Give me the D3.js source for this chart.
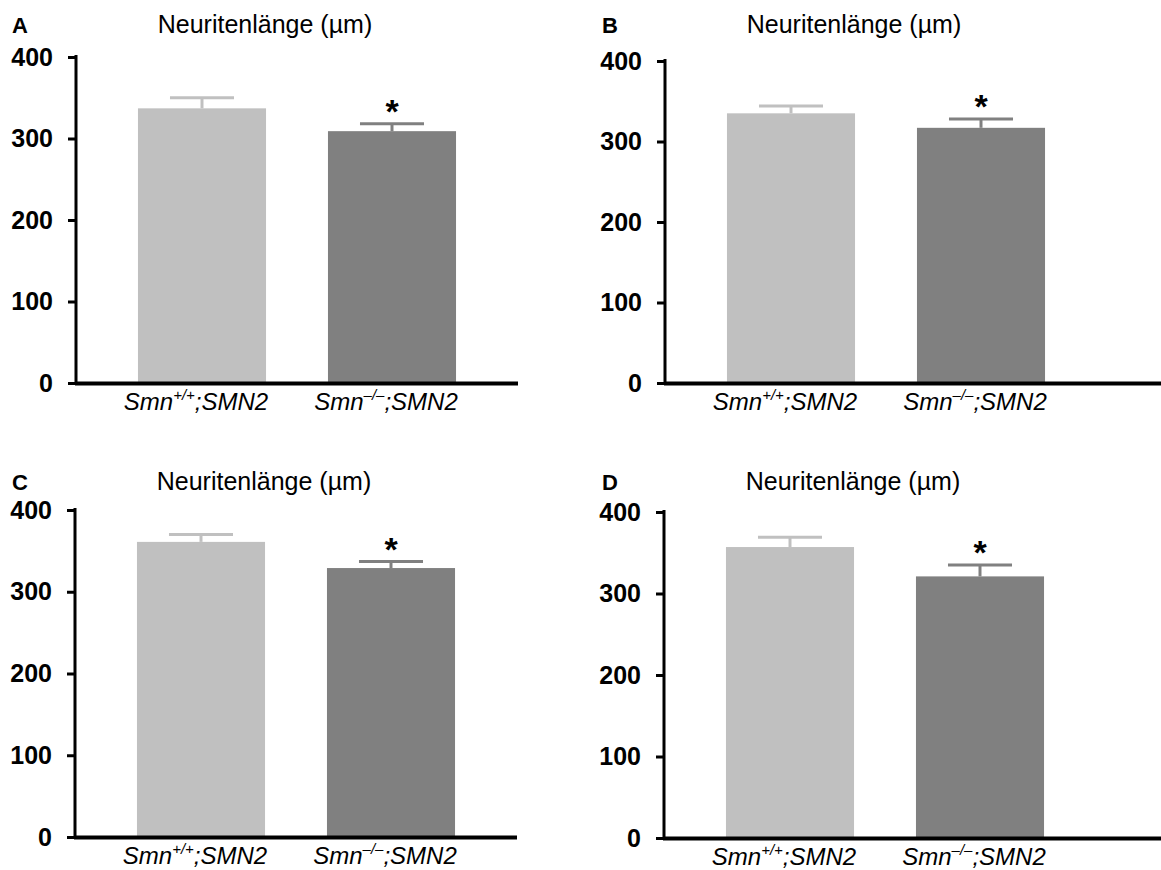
<!DOCTYPE html>
<html>
<head>
<meta charset="utf-8">
<title>Neuritenlänge</title>
<script src="https://cdn.jsdelivr.net/npm/d3@7"></script>
<style>
  body { margin: 0; background: #fff; }
  text { font-family: "Liberation Sans", Arial, sans-serif; }
</style>
</head>
<body>
<div id="container"></div>
<script>
// data
var panelLetters = ["A", "B", "C", "D"];
var genotypes = ["+/+", "\u2013/\u2013"];
var means = [[337, 309], [335, 317], [361, 329], [357, 321]];
var sems = [[13, 9], [9, 11], [9, 8], [12, 14]];
var significant = [false, true];
var yTicks = [0, 100, 200, 300, 400];
var title = "Neuritenlänge (µm)";

var barColors = ["#c0c0c0", "#808080"];

// where each panel sits on the page
var layout = [
  {x0: 76,  yTop: 57,  yBottom: 383, xEnd: 518,  titleY: 33,  letterX: 12,  letterY: 33},
  {x0: 665, yTop: 61,  yBottom: 383, xEnd: 1161, titleY: 33,  letterX: 602, letterY: 33},
  {x0: 75,  yTop: 510, yBottom: 837, xEnd: 517,  titleY: 490, letterX: 12,  letterY: 490},
  {x0: 664, yTop: 512, yBottom: 838, xEnd: 1161, titleY: 490, letterX: 602, letterY: 490}
];

var svg = d3.select("#container").append("svg")
  .attr("width", 1161)
  .attr("height", 870);

panelLetters.forEach(function(letter, p) {
  var L = layout[p];
  var g = svg.append("g");

  var y = d3.scaleLinear().domain([0, 400]).range([L.yBottom, L.yTop]);
  var x = d3.scaleBand().domain(genotypes)
    .range([L.x0 + 31, L.x0 + 411])
    .paddingInner(0.326).paddingOuter(0.163);

  var rows = genotypes.map(function(gt, i) {
    return {gt: gt, mean: means[p][i], sem: sems[p][i], i: i};
  });

  // bars
  g.selectAll("rect.bar").data(rows).enter().append("rect")
    .attr("class", "bar")
    .attr("x", function(d) { return x(d.gt); })
    .attr("y", function(d) { return y(d.mean); })
    .attr("width", x.bandwidth())
    .attr("height", function(d) { return y(0) - y(d.mean); })
    .attr("fill", function(d) { return barColors[d.i]; });

  // error bars (upper only)
  var capW = x.bandwidth() / 2;
  g.selectAll("line.stem").data(rows).enter().append("line")
    .attr("x1", function(d) { return x(d.gt) + x.bandwidth() / 2; })
    .attr("x2", function(d) { return x(d.gt) + x.bandwidth() / 2; })
    .attr("y1", function(d) { return y(d.mean); })
    .attr("y2", function(d) { return y(d.mean + d.sem); })
    .attr("stroke", function(d) { return barColors[d.i]; })
    .attr("stroke-width", 3);
  g.selectAll("line.cap").data(rows).enter().append("line")
    .attr("x1", function(d) { return x(d.gt) + x.bandwidth() / 2 - capW / 2; })
    .attr("x2", function(d) { return x(d.gt) + x.bandwidth() / 2 + capW / 2; })
    .attr("y1", function(d) { return y(d.mean + d.sem); })
    .attr("y2", function(d) { return y(d.mean + d.sem); })
    .attr("stroke", function(d) { return barColors[d.i]; })
    .attr("stroke-width", 3);

  // significance star
  g.selectAll("text.star").data(rows.filter(function(d) { return significant[d.i]; }))
    .enter().append("text")
    .attr("x", function(d) { return x(d.gt) + x.bandwidth() / 2; })
    .attr("y", function(d) { return y(d.mean + d.sem) - 1; })
    .attr("text-anchor", "middle")
    .attr("font-size", 34)
    .attr("font-weight", "bold")
    .text("*");

  // y axis
  var yAxis = g.append("g")
    .attr("transform", "translate(" + L.x0 + ",0)")
    .call(d3.axisLeft(y).tickValues(yTicks).tickSize(8).tickSizeOuter(0).tickPadding(15));
  yAxis.select(".domain").attr("stroke-width", 3)
    .attr("d", "M0," + (L.yTop - 2) + "V" + L.yBottom);
  yAxis.selectAll(".tick line").attr("stroke-width", 3);
  yAxis.selectAll(".tick text")
    .attr("font-size", 25).attr("font-weight", "bold")
    .attr("font-family", "Liberation Sans, Arial, sans-serif")
    .attr("fill", "#000");

  // x axis line
  g.append("line")
    .attr("x1", L.x0 - 1).attr("x2", L.xEnd)
    .attr("y1", y(0) + 0.5).attr("y2", y(0) + 0.5)
    .attr("stroke", "#000").attr("stroke-width", 4);

  // category labels
  var lab = g.selectAll("text.cat").data(rows).enter().append("text")
    .attr("x", function(d) { return x(d.gt) + x.bandwidth() / 2 - 6; })
    .attr("y", L.yBottom + 27)
    .attr("text-anchor", "middle")
    .attr("font-size", 24)
    .attr("font-style", "italic");
  lab.append("tspan").text("Smn");
  lab.append("tspan").attr("font-size", 15).attr("dy", -10).text(function(d) { return d.gt; });
  lab.append("tspan").attr("dy", 10).text(";SMN2");

  // title
  g.append("text")
    .attr("x", L.x0 + 189).attr("y", L.titleY)
    .attr("text-anchor", "middle")
    .attr("font-size", 25)
    .text(title);

  // panel letter
  g.append("text")
    .attr("x", L.letterX).attr("y", L.letterY)
    .attr("font-size", 22)
    .attr("font-weight", "bold")
    .text(letter);
});
</script>
</body>
</html>
